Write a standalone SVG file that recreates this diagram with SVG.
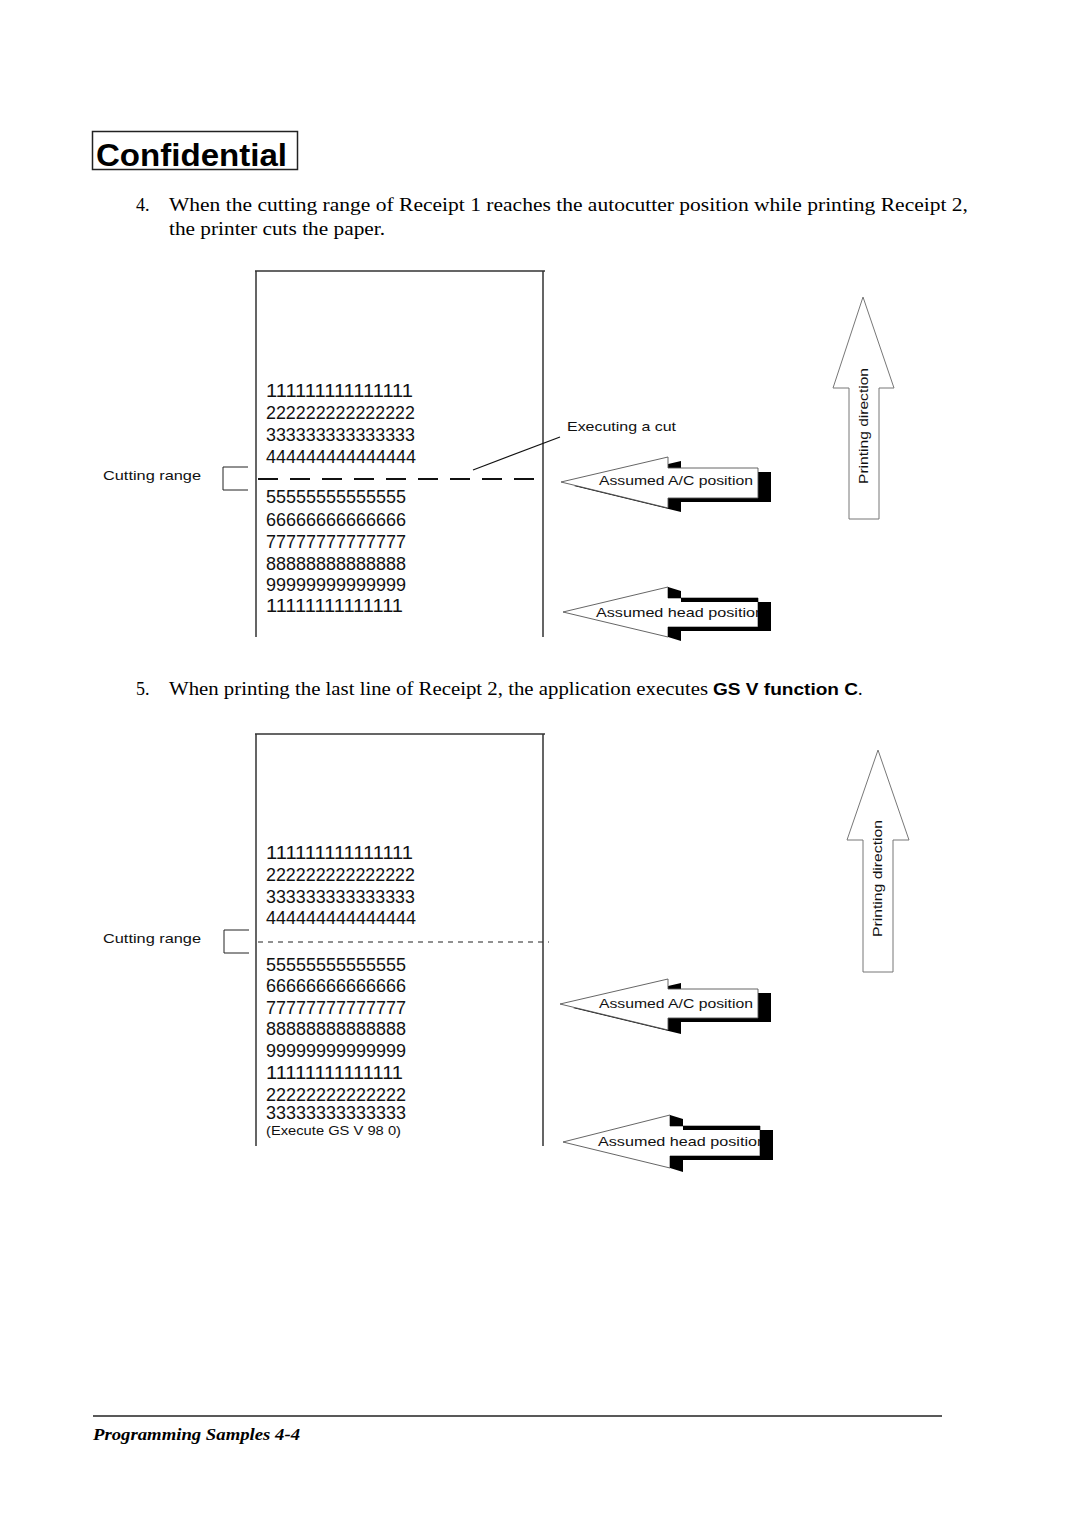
<svg xmlns="http://www.w3.org/2000/svg" width="1080" height="1528" viewBox="0 0 1080 1528">
<style>
.serif{font-family:"Liberation Serif","Times New Roman",serif;font-size:18px;fill:#000}
.num{font-family:"Liberation Sans",Arial,sans-serif;font-size:18px;fill:#111}
.lbl{font-family:"Liberation Sans",Arial,sans-serif;font-size:13px;fill:#111}
.paper{fill:none;stroke:#333;stroke-width:1.5}
.arrow{fill:#fff;stroke:#555;stroke-width:0.9}
.shadow{fill:#000}
.pdir{fill:#fff;stroke:#777;stroke-width:1}
</style>
<defs>
<clipPath id="clipHead1"><rect x="590" y="590" width="168" height="40"/></clipPath>
<clipPath id="clipHead2"><rect x="590" y="1120" width="170" height="40"/></clipPath>
</defs>
<rect width="1080" height="1528" fill="#fff"/>

<g id="confidential">
<rect x="92.5" y="131.5" width="205" height="38" fill="none" stroke="#222" stroke-width="1.5"/>
<text x="96" y="166" font-family="Liberation Sans,Arial,sans-serif" font-weight="bold" font-size="31" textLength="191" lengthAdjust="spacingAndGlyphs">Confidential</text>
</g>

<g id="para4">
<text class="serif" x="136" y="211">4.</text>
<text class="serif" x="169" y="211" textLength="799" lengthAdjust="spacingAndGlyphs">When the cutting range of Receipt 1 reaches the autocutter position while printing Receipt 2,</text>
<text class="serif" x="169" y="235" textLength="216" lengthAdjust="spacingAndGlyphs">the printer cuts the paper.</text>
</g>

<!-- Diagram 1 -->
<g id="paper1">
<path class="paper" d="M255,271 H545 M256,271 V637 M543,271 V637"/>
<text class="num" x="266" y="397" textLength="147" lengthAdjust="spacingAndGlyphs">111111111111111</text>
<text class="num" x="266" y="419" textLength="149" lengthAdjust="spacingAndGlyphs">222222222222222</text>
<text class="num" x="266" y="441" textLength="149" lengthAdjust="spacingAndGlyphs">333333333333333</text>
<text class="num" x="266" y="463" textLength="150" lengthAdjust="spacingAndGlyphs">444444444444444</text>
<text class="num" x="266" y="503" textLength="140" lengthAdjust="spacingAndGlyphs">55555555555555</text>
<text class="num" x="266" y="526" textLength="140" lengthAdjust="spacingAndGlyphs">66666666666666</text>
<text class="num" x="266" y="548" textLength="140" lengthAdjust="spacingAndGlyphs">77777777777777</text>
<text class="num" x="266" y="570" textLength="140" lengthAdjust="spacingAndGlyphs">88888888888888</text>
<text class="num" x="266" y="591" textLength="140" lengthAdjust="spacingAndGlyphs">99999999999999</text>
<text class="num" x="266" y="612" textLength="137" lengthAdjust="spacingAndGlyphs">11111111111111</text>
</g>
<g id="cutrange1">
<text class="lbl" x="103" y="480" textLength="98" lengthAdjust="spacingAndGlyphs">Cutting range</text>
<path d="M248,467 H223 V490 H248" fill="none" stroke="#222" stroke-width="1"/>
</g>
<g id="executing-cut">
<text class="lbl" x="567" y="431" textLength="109" lengthAdjust="spacingAndGlyphs">Executing a cut</text>
</g>
<g id="ac-arrow1">
<polygon class="shadow" points="574,486 681,461 681,472 771,472 771,502 681,502 681,512"/>
<polygon class="arrow" points="561,482 668,457 668,468 758,468 758,498 668,498 668,508"/>
<text class="lbl" x="599" y="485" textLength="154" lengthAdjust="spacingAndGlyphs">Assumed A/C position</text>
</g>
<g id="head-arrow1">
<polygon class="arrow" points="563,612 668,587 668,598 758,598 758,627 668,627 668,637"/>
<text class="lbl" x="596" y="617" textLength="168" lengthAdjust="spacingAndGlyphs" clip-path="url(#clipHead1)">Assumed head position</text>
<polygon class="shadow" points="668,587 681,591 681,602 771,602 771,631 681,631 681,641 668,637 668,627 758,627 758,598 668,598"/>
</g>
<g id="pdir1">
<polygon class="pdir" points="863,297 894,388 879,388 879,519 849,519 849,388 833,388"/>
<text class="lbl" x="868" y="484" transform="rotate(-90 868 484)" textLength="116" lengthAdjust="spacingAndGlyphs">Printing direction</text>
</g>

<g id="connectors">
<line x1="258" y1="479" x2="543" y2="479" stroke="#111" stroke-width="2" stroke-dasharray="20,12"/>
<line x1="473" y1="470" x2="560" y2="437" stroke="#111" stroke-width="1.2"/>
<line x1="258" y1="942" x2="549" y2="942" stroke="#222" stroke-width="1" stroke-dasharray="5,5"/>
</g>

<g id="para5">
<text class="serif" x="136" y="695">5.</text>
<text class="serif" x="169" y="695" textLength="539" lengthAdjust="spacingAndGlyphs">When printing the last line of Receipt 2, the application executes</text>
<text x="713" y="695" font-family="Liberation Sans,Arial,sans-serif" font-weight="bold" font-size="17" textLength="145" lengthAdjust="spacingAndGlyphs">GS V function C</text>
<text class="serif" x="858" y="695">.</text>
</g>

<!-- Diagram 2 -->
<g id="paper2">
<path class="paper" d="M255,734 H545 M256,734 V1146 M543,734 V1146"/>
<text class="num" x="266" y="859" textLength="147" lengthAdjust="spacingAndGlyphs">111111111111111</text>
<text class="num" x="266" y="881" textLength="149" lengthAdjust="spacingAndGlyphs">222222222222222</text>
<text class="num" x="266" y="903" textLength="149" lengthAdjust="spacingAndGlyphs">333333333333333</text>
<text class="num" x="266" y="924" textLength="150" lengthAdjust="spacingAndGlyphs">444444444444444</text>
<text class="num" x="266" y="971" textLength="140" lengthAdjust="spacingAndGlyphs">55555555555555</text>
<text class="num" x="266" y="992" textLength="140" lengthAdjust="spacingAndGlyphs">66666666666666</text>
<text class="num" x="266" y="1014" textLength="140" lengthAdjust="spacingAndGlyphs">77777777777777</text>
<text class="num" x="266" y="1035" textLength="140" lengthAdjust="spacingAndGlyphs">88888888888888</text>
<text class="num" x="266" y="1057" textLength="140" lengthAdjust="spacingAndGlyphs">99999999999999</text>
<text class="num" x="266" y="1079" textLength="137" lengthAdjust="spacingAndGlyphs">11111111111111</text>
<text class="num" x="266" y="1101" textLength="140" lengthAdjust="spacingAndGlyphs">22222222222222</text>
<text class="num" x="266" y="1119" textLength="140" lengthAdjust="spacingAndGlyphs">33333333333333</text>
<text class="lbl" x="266" y="1135" textLength="135" lengthAdjust="spacingAndGlyphs">(Execute GS V 98 0)</text>
</g>
<g id="cutrange2">
<text class="lbl" x="103" y="943" textLength="98" lengthAdjust="spacingAndGlyphs">Cutting range</text>
<path d="M249,930 H224 V953 H249" fill="none" stroke="#222" stroke-width="1"/>
</g>
<g id="ac-arrow2">
<polygon class="shadow" points="573,1008 681,983 681,993 771,993 771,1022 681,1022 681,1034"/>
<polygon class="arrow" points="560,1004 668,979 668,989 758,989 758,1018 668,1018 668,1030"/>
<text class="lbl" x="599" y="1008" textLength="154" lengthAdjust="spacingAndGlyphs">Assumed A/C position</text>
</g>
<g id="head-arrow2">
<polygon class="arrow" points="563,1142 670,1115 670,1126 760,1126 760,1156 670,1156 670,1168"/>
<text class="lbl" x="598" y="1146" textLength="168" lengthAdjust="spacingAndGlyphs" clip-path="url(#clipHead2)">Assumed head position</text>
<polygon class="shadow" points="670,1115 683,1119 683,1130 773,1130 773,1160 683,1160 683,1172 670,1168 670,1156 760,1156 760,1126 670,1126"/>
</g>
<g id="pdir2">
<polygon class="pdir" points="878,750 909,840 893,840 893,972 863,972 863,840 847,840"/>
<text class="lbl" x="882" y="937" transform="rotate(-90 882 937)" textLength="117" lengthAdjust="spacingAndGlyphs">Printing direction</text>
</g>

<g id="footer">
<line x1="93" y1="1416" x2="942" y2="1416" stroke="#222" stroke-width="1.5"/>
<text x="93" y="1440" font-family="Liberation Serif,serif" font-style="italic" font-weight="bold" font-size="17" textLength="207" lengthAdjust="spacingAndGlyphs">Programming Samples 4-4</text>
</g>
</svg>
